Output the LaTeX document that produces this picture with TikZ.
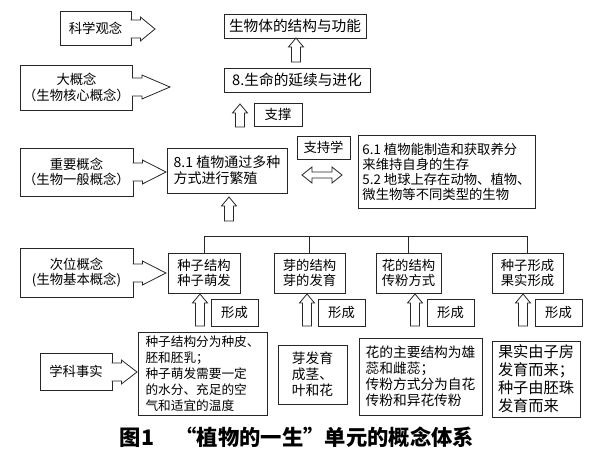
\documentclass[tikz,border=0pt]{standalone}
\usepackage{fontspec}
\setmainfont{Noto Sans CJK SC}
\usetikzlibrary{calc}

% hollow block arrow pointing up: #1 bottom, #2 top
\newcommand{\hollowup}[2]{%
  \draw[barrow] ($(#1)+(-4.5,0)$) -- ($(#2)+(-4.5,9)$) -- ($(#2)+(-7.5,9)$) -- (#2)
    -- ($(#2)+(7.5,9)$) -- ($(#2)+(4.5,9)$) -- ($(#1)+(4.5,0)$) -- cycle;}
% arrow growing out of the right side of a box: #1 box, #2 tip
\newcommand{\sidearrow}[2]{%
  \filldraw[barrow] ($(#1.east |- #2)+(-0.8,-9)$) -- ++(9.8,0) -- ++(0,-3) -- (#2)
    -- ($(#1.east |- #2)+(9,12)$) -- ++(0,-3) -- ++(-9.8,0);}

\begin{document}
\begin{tikzpicture}[x=0.75pt,y=-0.75pt,
  cbox/.style={draw=black!85, line width=0.6pt, inner sep=2pt, font=\fontsize{10}{11.5}\selectfont},
  bw/.style={minimum width=#1*0.75pt},
  bh/.style={minimum height=#1*0.75pt},
  barrow/.style={draw=black!85, line width=0.6pt, fill=white},
  conn/.style={draw=black!85, line width=0.6pt}]
  \fill[white] (0,0) rectangle (600,461);
  \useasboundingbox (0,0) rectangle (600,461);

  % left column
  \node[cbox, bw=71, bh=34] (kxgn) at (95.5,28) {科学观念};
  \node[cbox, bw=109, bh=45, align=center] (dgn) at (76.5,87.5) {大概念\\（生物核心概念）};
  \node[cbox, bw=113, bh=48, align=center] (zygn) at (76.5,172) {重要概念\\（生物一般概念）};
  \node[cbox, bw=113, bh=49, align=center] (cwgn) at (76.5,272.5) {次位概念\\(生物基本概念)};
  \node[cbox, bw=72, bh=37] (xksh) at (76,371.5) {学科事实};

  % upper part
  \node[cbox, bw=142, bh=24, font=\fontsize{11}{12}\selectfont] (jgyn) at (295,26) {生物体的结构与功能};
  \node[cbox, bw=146, bh=24, font=\fontsize{11}{12}\selectfont] (smyx) at (297,80) {8.生命的延续与进化};
  \node[cbox, bw=48, bh=23] (zc) at (278,114.5) {支撑};
  \node[cbox, bw=120, bh=45, align=left, font=\fontsize{10.5}{12}\selectfont] (b81) at (227,170.5)
    {8.1 植物通过多种\\方式进行繁殖};
  \node[cbox, bw=53, bh=23] (zcx) at (323.5,147.5) {支持学};
  \node[cbox, bw=177, bh=73, align=left, font=\fontsize{10}{11.3}\selectfont] (b61) at (446.5,171.5)
    {6.1 植物能制造和获取养分\\来维持自身的生存\\5.2 地球上存在动物、植物、\\微生物等不同类型的生物};

  % sub concepts
  \node[cbox, bw=72, bh=40, align=center] (zzjg) at (204,273) {种子结构\\种子萌发};
  \node[cbox, bw=71, bh=40, align=center] (yjg) at (309.5,273) {芽的结构\\芽的发育};
  \node[cbox, bw=65, bh=40, align=center] (hjg) at (408.5,273) {花的结构\\传粉方式};
  \node[cbox, bw=71, bh=40, align=center] (zzxc) at (527.5,273) {种子形成\\果实形成};

  \node[cbox, bw=47, bh=27] (xc1) at (234.5,312.5) {形成};
  \node[cbox, bw=47, bh=27] (xc2) at (341.5,312.5) {形成};
  \node[cbox, bw=47, bh=27] (xc3) at (450.5,312.5) {形成};
  \node[cbox, bw=47, bh=27] (xc4) at (558.5,312.5) {形成};

  % facts
  \node[cbox, bw=129, bh=83, align=left, font=\fontsize{9.5}{12}\selectfont] (f1) at (202.5,373.5)
    {种子结构分为种皮、\\胚和胚乳；\\种子萌发需要一定\\的水分、充足的空\\气和适宜的温度};
  \node[cbox, bw=69, bh=59, align=left, font=\fontsize{10.3}{12}\selectfont] (f2) at (312.5,374.5)
    {芽发育\\成茎、\\叶和花};
  \node[cbox, bw=123, bh=77, align=left, font=\fontsize{10.3}{12}\selectfont] (f3) at (420.5,376.5)
    {花的主要结构为雄\\蕊和雌蕊；\\传粉方式分为自花\\传粉和异花传粉};
  \node[cbox, bw=88, bh=76, align=left, font=\fontsize{11.4}{13.5}\selectfont] (f4) at (536,379)
    {果实由子房\\发育而来；\\种子由胚珠\\发育而来};

  % tree
  \coordinate (tl) at (0,236);
  \draw[conn] (zzjg.north) -- (zzjg.north |- tl) -- (zzxc.north |- tl) -- (zzxc.north);
  \draw[conn] (yjg.north) -- (yjg.north |- tl);
  \draw[conn] (hjg.north) -- (hjg.north |- tl);

  % side arrows
  \coordinate (tp1) at (155,29);
  \coordinate (tp2) at (170,87);
  \coordinate (tp3) at (166,172);
  \coordinate (tp4) at (166,273);
  \coordinate (tp5) at (137,372);
  \sidearrow{kxgn}{tp1}
  \sidearrow{dgn}{tp2}
  \sidearrow{zygn}{tp3}
  \sidearrow{cwgn}{tp4}
  \sidearrow{xksh}{tp5}

  % up arrows
  \coordinate (ua) at (296,62);
  \coordinate (ta) at (296,38);
  \hollowup{ua}{ta}
  \coordinate (ub) at (240,127);
  \coordinate (tb) at (240,104);
  \hollowup{ub}{tb}
  \coordinate (uc) at (229,221);
  \coordinate (tc) at (229,197);
  \hollowup{uc}{tc}
  \foreach \n/\x in {1/200,2/307,3/415,4/523}{
    \coordinate (u\n) at (\x,326);
    \coordinate (t\n) at (\x,294);
    \hollowup{u\n}{t\n}
  }

  % double arrow
  \coordinate (dl) at (302,175);
  \coordinate (dr) at (342,175);
  \draw[barrow] (dl) -- ++(10,-8) -- ++(0,5) -- ++(20,0) -- ++(0,-5) -- (dr)
    -- ++(-10,8) -- ++(0,-5) -- ++(-20,0) -- ++(0,5) -- cycle;

  \node[font=\fontsize{16}{16}\bfseries] (cap) at (297,437) {图1\hspace{1em}“植物的一生”单元的概念体系};
\end{tikzpicture}
\end{document}
